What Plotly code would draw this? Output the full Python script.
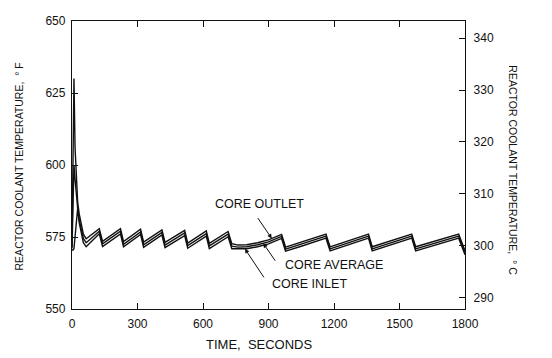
import numpy as np
import plotly.graph_objects as go

# time, seconds
time_s = [0, 5, 9, 14, 20, 26, 33, 42, 52, 65,
          125, 140, 222, 236, 314, 328, 412, 426, 516, 530, 615, 629, 715, 732,
          760, 800, 850, 900, 960, 978,
          1050, 1110, 1163, 1182,
          1250, 1310, 1358, 1375,
          1450, 1510, 1556, 1574,
          1650, 1720, 1771, 1790, 1800]

core_outlet = [571.5, 615, 630, 606, 594, 587, 583, 579, 576, 574.4,
               577.9, 573.5, 577.9, 573.4, 577.7, 573.2, 577.5, 573.1, 577.3, 572.9, 577.1, 572.8, 576.9, 572.7,
               572.2, 572.3, 573.0, 574.0, 575.9, 571.5,
               573.2, 574.7, 576.0, 571.6,
               573.3, 574.8, 576.0, 571.6,
               573.4, 574.8, 576.0, 571.6,
               573.4, 574.9, 576.0, 572.2, 570.2]

core_average = [571, 590, 600, 595, 589, 585, 581, 577.5, 574.5, 573,
                577, 572.6, 577, 572.5, 576.8, 572.3, 576.6, 572.2, 576.4, 572, 576.2, 571.9, 576, 571.8,
                571.5, 571.6, 572.3, 573.3, 575.2, 570.8,
                572.5, 574, 575.3, 570.9,
                572.6, 574.1, 575.3, 570.9,
                572.7, 574.1, 575.3, 570.9,
                572.7, 574.2, 575.3, 571.5, 569.5]

core_inlet = [570.5, 570.5, 571, 576, 582, 585, 580, 576, 573, 571.6,
              576.1, 571.7, 576.1, 571.6, 575.9, 571.4, 575.7, 571.3, 575.5, 571.1, 575.3, 571.0, 575.1, 570.9,
              570.8, 570.9, 571.6, 572.6, 574.5, 570.1,
              571.8, 573.3, 574.6, 570.2,
              571.9, 573.4, 574.6, 570.2,
              572.0, 573.4, 574.6, 570.2,
              572.0, 573.5, 574.6, 570.8, 568.8]

x_ticks = [0, 300, 600, 900, 1200, 1500, 1800]
f_ticks = [550, 575, 600, 625, 650]
c_ticks = [290, 300, 310, 320, 330, 340]

F_MIN, F_MAX = 550, 650
FONT = "Liberation Sans, Arial, sans-serif"
INK = "#111111"

# page offset (default body margin) and plot box in window pixels
OFF = 8
P_LEFT, P_RIGHT, P_TOP, P_BOTTOM = 72, 465, 14, 309
W, H = 552, 358
PW, PH = P_RIGHT - P_LEFT, P_BOTTOM - P_TOP

fig = go.Figure()
for series in (core_outlet, core_average, core_inlet):
    fig.add_trace(go.Scatter(x=time_s, y=series, mode="lines",
                             line=dict(color=INK, width=1.4), showlegend=False,
                             hoverinfo="skip"))
# invisible trace to activate the Celsius axis
fig.add_trace(go.Scatter(x=[None], y=[None], yaxis="y2", showlegend=False))

axis_common = dict(ticks="inside", ticklen=6, tickwidth=1.2, tickcolor=INK,
                   showline=True, linecolor=INK, linewidth=1.3, showgrid=False,
                   zeroline=False, tickfont=dict(size=12), ticklabeloverflow="allow")

fig.update_layout(
    width=W, height=H,
    margin=dict(l=P_LEFT - OFF, r=W - (P_RIGHT - OFF), t=P_TOP - OFF, b=H - (P_BOTTOM - OFF)),
    paper_bgcolor="white", plot_bgcolor="white",
    font=dict(family=FONT, size=12, color=INK),
    xaxis=dict(range=[0, 1800], tickvals=x_ticks, mirror="ticks",
               ticklabelstandoff=3, **axis_common),
    yaxis=dict(range=[F_MIN, F_MAX], tickvals=f_ticks, ticklabelstandoff=3, **axis_common),
    yaxis2=dict(range=[(F_MIN - 32) / 1.8, (F_MAX - 32) / 1.8], tickvals=c_ticks,
                overlaying="y", side="right", ticklabelstandoff=5, **axis_common),
)


def px(xw):
    return (xw - P_LEFT) / PW


def py(yw):
    return (P_BOTTOM - yw) / PH


annotations = [
    dict(text="TIME,  SECONDS", xref="paper", yref="paper", x=px(259), y=py(345),
         xanchor="center", yanchor="middle", showarrow=False, font=dict(size=13)),
    dict(text="REACTOR COOLANT TEMPERATURE,  ° F", xref="paper", yref="paper",
         x=px(19), y=py(163), textangle=-90,
         xanchor="center", yanchor="middle", showarrow=False, font=dict(size=10.5)),
    dict(text="REACTOR COOLANT TEMPERATURE,  ° C", xref="paper", yref="paper",
         x=px(513), y=py(167), textangle=90,
         xanchor="center", yanchor="middle", showarrow=False, font=dict(size=10.5)),
    dict(text="CORE OUTLET", xref="paper", yref="paper", x=px(213), y=py(201),
         xanchor="left", yanchor="middle", showarrow=False, font=dict(size=12.5)),
    dict(text="CORE AVERAGE", xref="paper", yref="paper", x=px(283), y=py(264),
         xanchor="left", yanchor="middle", showarrow=False, font=dict(size=12.5)),
    dict(text="CORE INLET", xref="paper", yref="paper", x=px(270), y=py(283),
         xanchor="left", yanchor="middle", showarrow=False, font=dict(size=12.5)),
]

arrow_specs = [(915, core_outlet, -15, -22), (876, core_average, 13, 19), (792, core_inlet, 20, 30)]
for t, series, ax, ay in arrow_specs:
    annotations.append(dict(text="", x=t, y=float(np.interp(t, time_s, series)),
                            ax=ax, ay=ay, showarrow=True, arrowhead=2, arrowsize=0.9,
                            arrowwidth=1, arrowcolor=INK))

fig.update_layout(annotations=annotations)
fig.write_html("out.html")
